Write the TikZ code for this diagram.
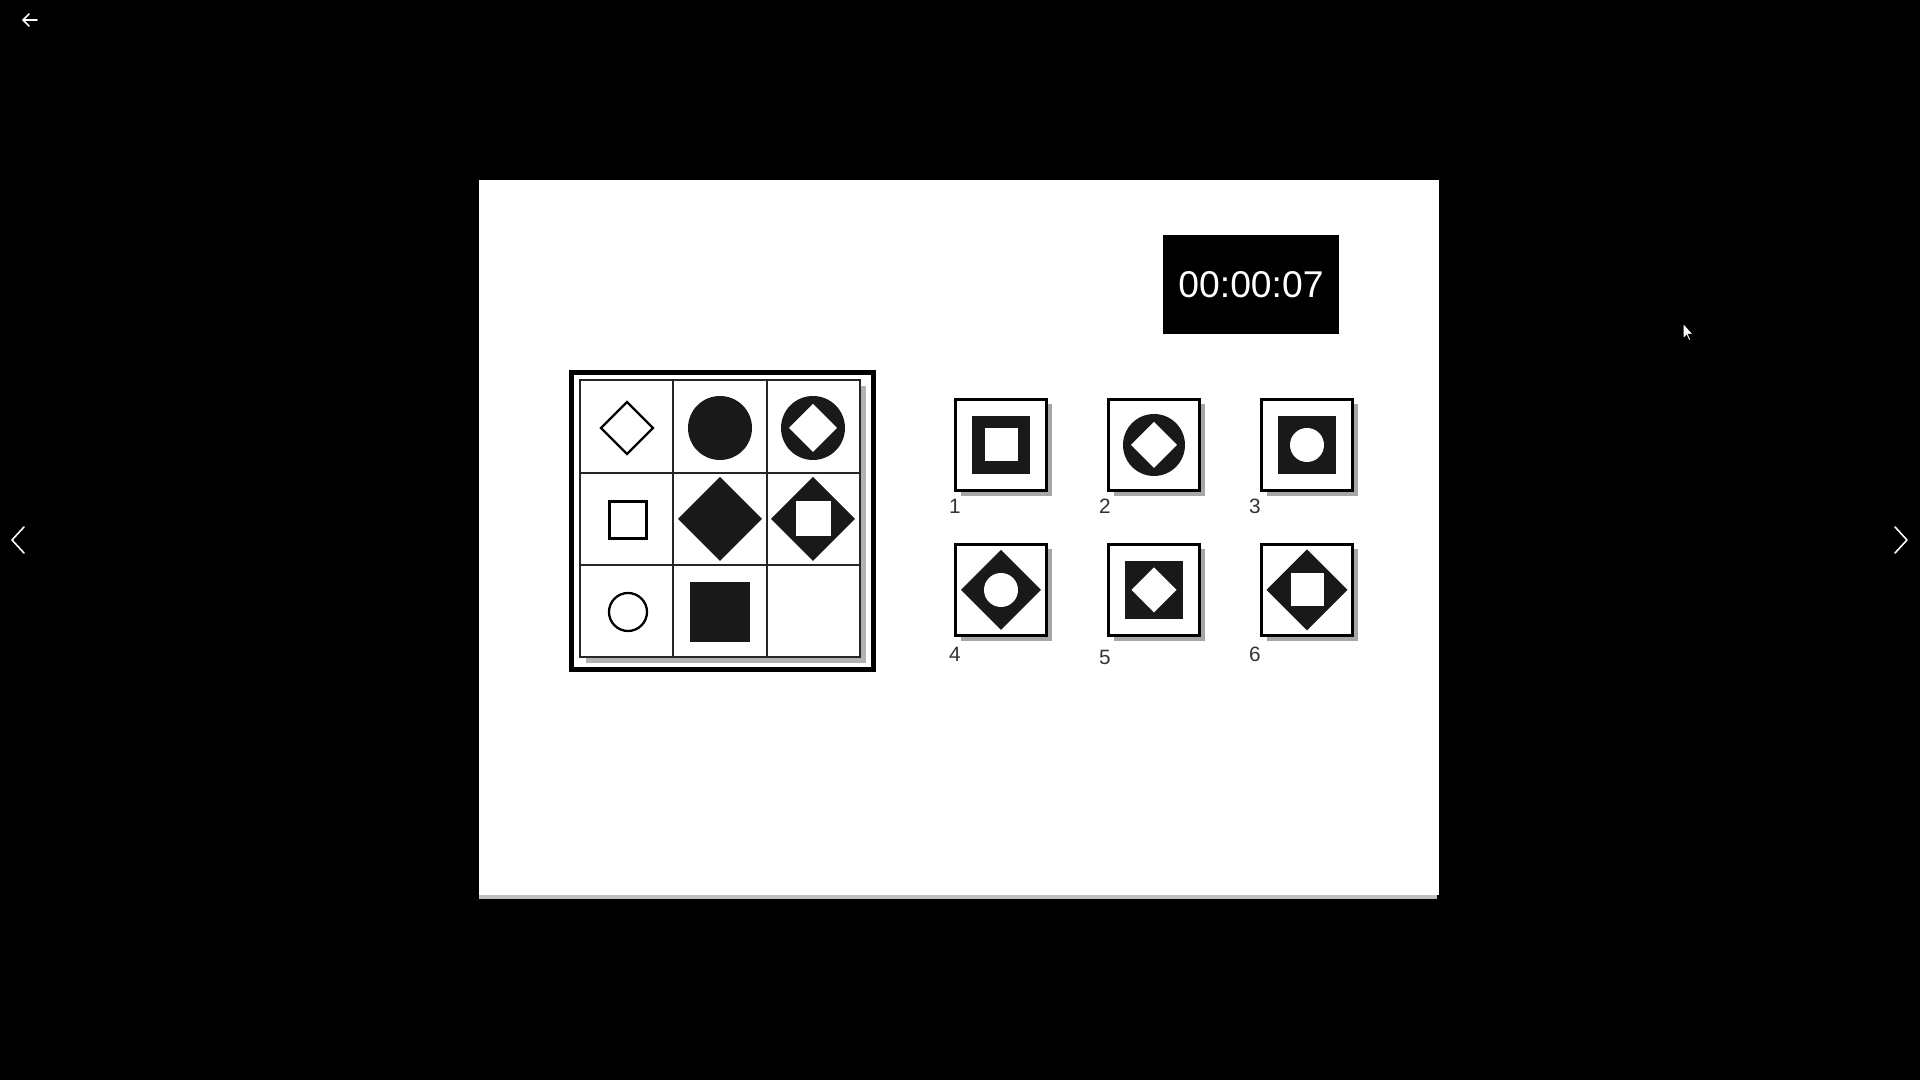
\documentclass[tikz,border=0pt]{standalone}
\usepackage{fontspec}
\setmainfont{Liberation Sans}
\begin{document}
\begin{tikzpicture}[x=0.01cm,y=-0.01cm,
  outl/.style={draw=black,line width=0.65pt},
  cellshadow/.style={fill=black!30},
  optbox/.style={draw=black,line width=0.65pt,fill=white},
  optshadow/.style={fill=black!35},
  lbl/.style={text=black!80,font=\fontsize{5.9}{7}\selectfont,inner sep=0pt},
  navline/.style={draw=white,line width=0.45pt,line cap=round,line join=round}]
% background
\fill[black] (0,0) rectangle (1920,1080);
\useasboundingbox (0,0) rectangle (1920,1080);
% slide
\fill[black!25] (479,893) rectangle (1437,899);
\fill[white] (479,180) rectangle (1439,895);
% timer
\fill[black] (1163,235) rectangle (1339,334);
\node[text=white,font=\fontsize{10.6}{12}\selectfont,inner sep=0pt] (timer) at (1251,285) {00:00:07};
% matrix
\draw[line width=1.4pt] (571.5,372.5) rectangle (873.5,669.5);
\fill[cellshadow] (586,386) rectangle (866,663);
\fill[white] (580,380) rectangle (860,657);
\draw[line width=0.75pt,draw=black!85] (580,380) rectangle (860,657)
  (673,380) -- (673,657) (767,380) -- (767,657)
  (580,473) -- (860,473) (580,565) -- (860,565);
% row 1
\begin{scope}[shift={(627,428)}]
  \draw[outl] (-26,0) -- (0,-26) -- (26,0) -- (0,26) -- cycle;
\end{scope}
\begin{scope}[shift={(720,428)}]
  \fill[black!90] (0,0) circle[radius=32];
\end{scope}
\begin{scope}[shift={(813,428)}]
  \fill[black!90] (0,0) circle[radius=32];
  \fill[white] (-24,0) -- (0,-24) -- (24,0) -- (0,24) -- cycle;
\end{scope}
% row 2
\begin{scope}[shift={(628,520)}]
  \draw[outl] (-18.5,-18.5) rectangle (18.5,18.5);
\end{scope}
\begin{scope}[shift={(720,519)}]
  \fill[black!90] (-42,0) -- (0,-42) -- (42,0) -- (0,42) -- cycle;
\end{scope}
\begin{scope}[shift={(813,519)}]
  \fill[black!90] (-42,0) -- (0,-42) -- (42,0) -- (0,42) -- cycle;
  \fill[white] (-17.5,-17.5) rectangle (17.5,17.5);
\end{scope}
% row 3
\begin{scope}[shift={(628,612)}]
  \draw[outl] (0,0) circle[radius=19];
\end{scope}
\begin{scope}[shift={(720,612)}]
  \fill[black!90] (-30,-30) rectangle (30,30);
\end{scope}
% options
\foreach \cx/\cy in {1001/445,1154/445,1307/445,1001/590,1154/590,1307/590}{
  \fill[optshadow] (\cx-40.5,\cy-40.5) rectangle (\cx+51,\cy+51);
  \draw[optbox] (\cx-45.5,\cy-45.5) rectangle (\cx+45.5,\cy+45.5);
}
% 1
\begin{scope}[shift={(1001,445)}]
  \fill[black!90] (-29,-29) rectangle (29,29);
  \fill[white] (-16.5,-16.5) rectangle (16.5,16.5);
\end{scope}
% 2
\begin{scope}[shift={(1154,445)}]
  \fill[black!90] (0,0) circle[radius=31];
  \fill[white] (-23,0) -- (0,-23) -- (23,0) -- (0,23) -- cycle;
\end{scope}
% 3
\begin{scope}[shift={(1307,445)}]
  \fill[black!90] (-29,-29) rectangle (29,29);
  \fill[white] (0,0) circle[radius=17];
\end{scope}
% 4
\begin{scope}[shift={(1001,590)}]
  \fill[black!90] (-40,0) -- (0,-40) -- (40,0) -- (0,40) -- cycle;
  \fill[white] (0,0) circle[radius=17];
\end{scope}
% 5
\begin{scope}[shift={(1154,590)}]
  \fill[black!90] (-29,-29) rectangle (29,29);
  \fill[white] (-22.5,0) -- (0,-22.5) -- (22.5,0) -- (0,22.5) -- cycle;
\end{scope}
% 6
\begin{scope}[shift={(1307,590)}]
  \fill[black!90] (-40.5,0) -- (0,-40.5) -- (40.5,0) -- (0,40.5) -- cycle;
  \fill[white] (-16.5,-16.5) rectangle (16.5,16.5);
\end{scope}
% labels
\node[lbl] (l1) at (955,506) {1};
\node[lbl] (l2) at (1105,506) {2};
\node[lbl] (l3) at (1255,506) {3};
\node[lbl] (l4) at (955,654) {4};
\node[lbl] (l5) at (1105,657) {5};
\node[lbl] (l6) at (1255,654) {6};
% navigation
\draw[navline] (23,20) -- (37,20) (29,14) -- (23,20) -- (29,26);
\draw[navline] (24,527) -- (12,540) -- (24,553);
\draw[navline] (1895,527) -- (1907,540) -- (1895,553);
% cursor
\begin{scope}[shift={(1683,323)}]
  \filldraw[fill=white,draw=black,line width=0.3pt] (0,0) -- (0,16) -- (3.5,12.5) -- (6,18) -- (8,17) -- (5.5,11.5) -- (10.5,11.5) -- cycle;
\end{scope}
\end{tikzpicture}
\end{document}
